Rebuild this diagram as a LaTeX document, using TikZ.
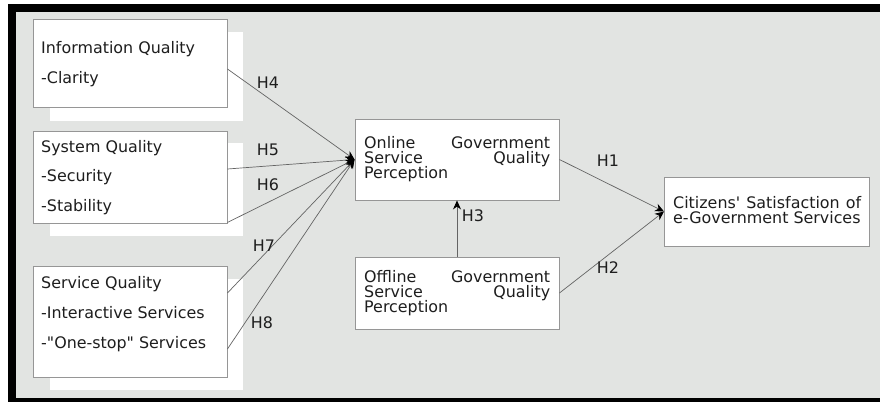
\documentclass[tikz,border=0pt]{standalone}
\usepackage{fontspec}
\newfontfamily\vfont{DejaVu Sans}
\usetikzlibrary{arrows.meta}
\definecolor{bg}{RGB}{226,228,226}
\definecolor{edge}{RGB}{150,150,150}
\definecolor{conn}{RGB}{100,100,100}
\definecolor{txt}{RGB}{30,30,30}
\begin{document}
\begin{tikzpicture}[x=1pt,y=-1pt,
  box/.style={draw=edge,line width=0.9pt,fill=white,inner sep=0pt},
  shadowbox/.style={fill=white,draw=none,inner sep=0pt},
  lbl/.style={font=\vfont\fontsize{15.9}{15}\selectfont,text=txt,inner sep=0pt},
  hyp/.style={font=\vfont\fontsize{15.9}{15}\selectfont,text=txt,inner sep=0pt},
  conn/.style={draw=conn,line width=0.7pt,-{Stealth[length=9pt,width=8pt,black]}}]
\useasboundingbox (0,0) rectangle (880,402);
% background and frame
\fill[bg] (8,4) rectangle (880,402);
\fill[black] (8,4) rectangle (880,12);
\fill[black] (8,4) rectangle (16,402);
\fill[black] (8,398) rectangle (880,402);
% shadows
\node[shadowbox,minimum width=193pt,minimum height=89pt] (infoS) at (146.5,76.5) {};
\node[shadowbox,minimum width=193pt,minimum height=93pt] (sysS) at (146.5,189.5) {};
\node[shadowbox,minimum width=193pt,minimum height=111pt] (servS) at (146.5,334.5) {};
% left boxes
\node[box,minimum width=194pt,minimum height=88pt] (info) at (130,63) {};
\node[box,minimum width=194pt,minimum height=92pt] (sys) at (130,177) {};
\node[box,minimum width=194pt,minimum height=111pt] (serv) at (130,321.5) {};
\node[lbl,anchor=base west] (infoA) at (41,53) {Information Quality};
\node[lbl,anchor=base west] (infoB) at (41,83) {-Clarity};
\node[lbl,anchor=base west] (sysA) at (41,152) {System Quality};
\node[lbl,anchor=base west] (sysB) at (41,181) {-Security};
\node[lbl,anchor=base west] (sysC) at (41,211) {-Stability};
\node[lbl,anchor=base west] (servA) at (41,288) {Service Quality};
\node[lbl,anchor=base west] (servB) at (41,318) {-Interactive Services};
\node[lbl,anchor=base west] (servC) at (41,348) {-"One-stop" Services};
% centre boxes
\node[box,minimum width=204pt,minimum height=81pt] (online) at (457,159.5) {};
\node[box,minimum width=204pt,minimum height=72pt] (offline) at (457,293) {};
\node[box,minimum width=205pt,minimum height=69pt,anchor=west] (cit) at (664,211.5) {};
\node[lbl,anchor=base west] (onA) at (364,148) {\hbox to 186pt{Online\hfill Government}};
\node[lbl,anchor=base west] (onB) at (364,163) {\hbox to 186pt{Service\hfill Quality}};
\node[lbl,anchor=base west] (onC) at (364,178) {Perception};
\node[lbl,anchor=base west] (offA) at (364,282) {\hbox to 186pt{Offline\hfill Government}};
\node[lbl,anchor=base west] (offB) at (364,297) {\hbox to 186pt{Service\hfill Quality}};
\node[lbl,anchor=base west] (offC) at (364,312) {Perception};
\node[lbl,anchor=base west] (citA) at (673,208) {\hbox to 188pt{Citizens'\hfill Satisfaction\hfill of}};
\node[lbl,anchor=base west] (citB) at (673,223) {e-Government Services};
% connectors
\draw[conn] ([yshift=-6pt]info.east) -- (online.west);
\draw[conn] ([yshift=8pt]sys.east) -- (online.west);
\draw[conn] ([yshift=1pt]sys.south east) -- (online.west);
\draw[conn] ([yshift=28.5pt]serv.east) -- (online.west);
\draw[conn] ([yshift=-27.5pt]serv.east) -- (online.west);
\draw[conn] (online.east) -- (cit.west);
\draw[conn] (offline.east) -- (cit.west);
\draw[conn] (offline.north) -- (online.south);
% hypothesis labels
\node[hyp] (h4) at (268,83) {H4};
\node[hyp] (h5) at (268,150) {H5};
\node[hyp] (h6) at (268,185) {H6};
\node[hyp] (h7) at (264,246) {H7};
\node[hyp] (h8) at (262,323) {H8};
\node[hyp] (h1) at (608,161) {H1};
\node[hyp] (h2) at (608,268) {H2};
\node[hyp] (h3) at (473,216) {H3};
\end{tikzpicture}
\end{document}
